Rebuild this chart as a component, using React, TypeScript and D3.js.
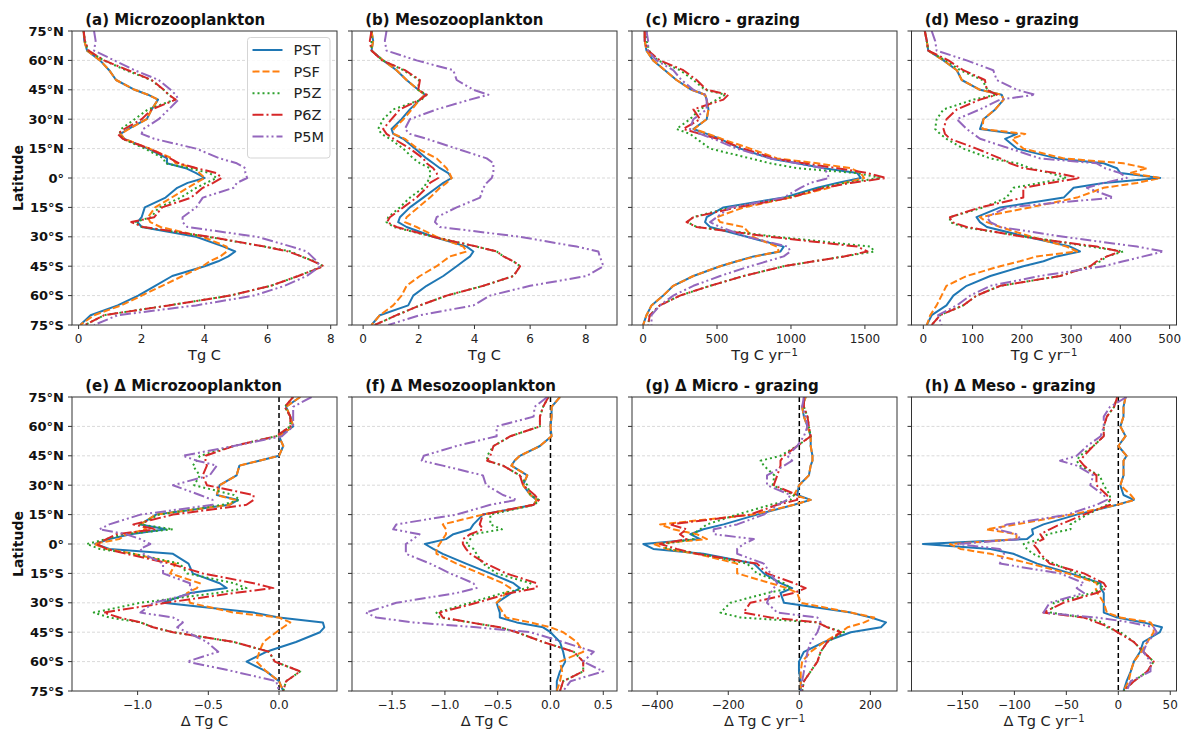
import React, { useEffect, useRef } from 'react';
import * as d3 from 'd3';

// latitude grid shared by every profile (deg, N positive)
const latitudes = [75, 70, 65, 60, 55, 50, 45, 42.5, 40, 35, 30, 25, 22.5, 20, 15, 10, 7.5, 5, 2.5, 0, -2.5, -5, -10, -15, -20, -22.5, -25, -30, -35, -37.5, -40, -42.5, -45, -50, -55, -60, -65, -70, -75];

const seriesNames = ['PST', 'PSF', 'P5Z', 'P6Z', 'P5M'];
const seriesColors = ['#1f77b4', '#ff7f0e', '#2ca02c', '#d62728', '#9467bd'];
const seriesDash = ['', '7,3', '2,3', '11,3,2,3', '11,3,2,3,2,3'];

const latTicks = [75, 60, 45, 30, 15, 0, -15, -30, -45, -60, -75];
const latTickLabels = ['75°N', '60°N', '45°N', '30°N', '15°N', '0°', '15°S', '30°S', '45°S', '60°S', '75°S'];

// rows: PST, PSF, P5Z, P6Z, P5M
const microBiomass = [
  [0.16, 0.18, 0.27, 0.68, 0.97, 1.19, 1.78, 2.2, 2.52, 2.32, 2.16, 1.57, 1.33, 1.45, 2.2, 2.81, 2.8, 3.4, 3.73, 4.0, 3.46, 3.13, 2.76, 2.1, 2.0, 1.87, 2.0, 3.73, 4.6, 4.97, 4.75, 4.43, 4.0, 2.97, 2.43, 1.89, 1.24, 0.38, 0.05],
  [0.16, 0.18, 0.27, 0.68, 0.97, 1.19, 1.78, 2.2, 2.52, 2.32, 2.16, 1.6, 1.33, 1.45, 2.25, 2.97, 3.08, 3.73, 3.84, 4.0, 3.73, 3.46, 2.95, 2.43, 2.2, 2.27, 2.6, 3.94, 4.7, 4.7, 4.5, 4.16, 3.94, 3.3, 2.65, 2.0, 1.35, 0.49, 0.05],
  [0.16, 0.2, 0.3, 0.8, 1.5, 2.3, 2.7, 2.86, 3.05, 2.2, 1.78, 1.35, 1.3, 1.4, 2.1, 2.7, 2.75, 3.5, 4.16, 4.38, 4.05, 3.73, 3.24, 2.55, 2.3, 1.78, 2.0, 4.1, 5.9, 6.75, 7.05, 7.5, 7.75, 6.97, 6.1, 4.8, 2.86, 0.81, 0.2],
  [0.16, 0.2, 0.32, 0.81, 1.57, 2.32, 2.7, 2.86, 3.08, 2.32, 2.0, 1.45, 1.24, 1.4, 2.25, 2.9, 3.19, 3.75, 4.38, 4.54, 4.27, 3.94, 3.57, 2.65, 2.4, 1.67, 2.05, 4.16, 5.9, 6.65, 7.08, 7.45, 7.78, 6.97, 6.1, 4.8, 2.86, 0.81, 0.2],
  [0.49, 0.54, 0.49, 1.13, 1.78, 2.54, 2.92, 3.08, 3.17, 2.86, 2.54, 2.05, 2.0, 2.4, 3.73, 4.48, 5.02, 5.29, 5.29, 5.35, 5.02, 4.92, 3.94, 3.73, 3.3, 3.3, 3.45, 5.67, 6.75, 7.24, 7.4, 7.56, 7.67, 7.24, 6.54, 5.56, 3.73, 1.24, 0.49],
];

const mesoBiomass = [
  [0.3, 0.36, 0.3, 0.72, 1.2, 1.56, 1.98, 2.22, 2.04, 1.68, 1.38, 1.02, 1.08, 1.44, 1.86, 2.28, 2.52, 2.76, 3.06, 3.18, 2.88, 2.64, 2.16, 1.68, 1.32, 1.26, 1.56, 2.52, 3.72, 3.96, 3.84, 3.6, 3.36, 2.88, 2.28, 1.8, 1.62, 0.6, 0.3],
  [0.3, 0.36, 0.3, 0.72, 1.2, 1.56, 1.98, 2.22, 2.04, 1.75, 1.45, 1.1, 1.1, 1.5, 1.95, 2.64, 2.82, 3.0, 3.1, 3.18, 3.0, 2.76, 2.4, 1.98, 1.56, 1.5, 1.92, 2.64, 3.6, 3.72, 3.12, 2.88, 2.64, 2.04, 1.56, 1.38, 1.08, 0.6, 0.3],
  [0.3, 0.3, 0.3, 0.7, 1.45, 2.0, 1.98, 2.28, 2.1, 1.08, 0.72, 0.54, 0.66, 0.96, 1.44, 1.8, 2.04, 2.4, 2.4, 2.4, 2.28, 2.16, 1.68, 1.32, 0.9, 0.84, 1.1, 2.52, 4.08, 4.8, 5.04, 5.4, 5.64, 5.4, 4.32, 3.0, 2.04, 1.2, 0.42],
  [0.3, 0.24, 0.3, 0.68, 1.5, 2.04, 1.98, 2.28, 2.04, 1.32, 1.02, 0.72, 0.84, 1.1, 1.68, 2.16, 2.28, 2.52, 2.64, 2.7, 2.4, 2.28, 1.92, 1.44, 0.96, 0.86, 1.2, 2.52, 4.08, 4.8, 5.04, 5.4, 5.64, 5.4, 4.32, 3.0, 2.04, 1.2, 0.42],
  [0.84, 0.78, 0.84, 1.92, 3.24, 3.36, 3.96, 4.5, 3.84, 2.64, 1.68, 1.5, 1.68, 2.28, 3.36, 4.44, 4.68, 4.68, 4.68, 4.62, 4.44, 4.32, 4.2, 3.36, 2.64, 2.58, 2.76, 5.64, 7.67, 8.45, 8.5, 8.57, 8.63, 8.03, 6.0, 4.56, 3.96, 2.04, 0.9],
];

const microGrazing = [
  [11, 11, 23, 68, 147, 226, 328, 419, 430, 442, 430, 340, 430, 521, 657, 860, 1042, 1223, 1449, 1472, 1313, 1178, 951, 543, 430, 419, 453, 702, 951, 929, 747, 634, 521, 340, 204, 136, 57, 23, 0],
  [11, 11, 23, 68, 147, 226, 328, 419, 430, 442, 430, 345, 440, 530, 725, 906, 1178, 1404, 1472, 1495, 1359, 1257, 996, 680, 498, 521, 680, 740, 906, 917, 760, 634, 521, 340, 204, 136, 57, 23, 0],
  [23, 25, 40, 100, 250, 340, 420, 555, 498, 385, 317, 226, 317, 362, 453, 725, 860, 1042, 1449, 1608, 1359, 1200, 980, 589, 340, 299, 362, 906, 1540, 1563, 1359, 1155, 951, 680, 453, 249, 113, 45, 34],
  [11, 11, 34, 113, 272, 362, 430, 577, 543, 340, 385, 272, 385, 500, 680, 883, 1087, 1313, 1517, 1642, 1404, 1223, 996, 634, 340, 294, 362, 860, 1449, 1517, 1359, 1155, 951, 680, 453, 249, 113, 45, 34],
  [23, 34, 34, 90, 204, 260, 340, 419, 430, 430, 340, 317, 385, 475, 634, 860, 1042, 1223, 1245, 1257, 1132, 1064, 951, 589, 498, 453, 521, 702, 980, 996, 951, 838, 725, 521, 340, 204, 113, 57, 57],
];

const mesoGrazing = [
  [3, 7, 10, 41, 68, 78, 115, 159, 163, 146, 122, 115, 190, 166, 190, 271, 366, 393, 400, 481, 366, 305, 285, 156, 108, 115, 129, 210, 298, 318, 271, 244, 203, 136, 88, 61, 47, 17, 7],
  [3, 7, 10, 41, 68, 78, 115, 159, 163, 146, 122, 120, 207, 180, 203, 285, 406, 454, 420, 481, 434, 366, 312, 217, 115, 129, 156, 220, 291, 312, 230, 196, 156, 88, 47, 37, 27, 14, 7],
  [3, 7, 10, 45, 75, 120, 130, 149, 102, 41, 27, 24, 34, 47, 81, 136, 190, 217, 257, 291, 237, 183, 169, 122, 54, 54, 80, 210, 339, 406, 373, 359, 339, 278, 156, 108, 81, 34, 17],
  [3, 7, 10, 51, 81, 125, 129, 149, 115, 68, 47, 41, 44, 54, 108, 156, 176, 203, 271, 318, 257, 203, 203, 115, 54, 58, 88, 203, 352, 400, 373, 352, 339, 278, 156, 108, 81, 34, 17],
  [17, 24, 27, 88, 142, 149, 190, 227, 156, 115, 68, 88, 102, 115, 176, 237, 352, 369, 400, 413, 366, 332, 386, 169, 129, 136, 156, 285, 434, 488, 447, 406, 366, 237, 136, 95, 68, 30, 37],
];

const dMicroBiomass = [
  [0.15, 0.05, 0.08, 0.1, 0.0, 0.03, 0.0, -0.14, -0.28, -0.3, -0.42, -0.44, -0.29, -0.35, -0.87, -0.98, -0.8, -1.05, -1.2, -1.3, -1.2, -0.75, -0.64, -0.61, -0.42, -0.37, -0.63, -0.82, -0.18, 0.0, 0.31, 0.32, 0.29, 0.12, -0.09, -0.23, -0.09, 0.0, 0.03],
  [0.15, 0.05, 0.08, 0.1, 0.0, 0.03, 0.0, -0.14, -0.28, -0.3, -0.42, -0.44, -0.31, -0.35, -0.87, -0.98, -0.94, -1.08, -1.13, -1.31, -1.22, -1.03, -0.73, -0.77, -0.56, -0.58, -0.65, -0.63, -0.32, 0.0, 0.08, 0.03, -0.02, -0.11, -0.14, -0.16, -0.09, 0.0, 0.03],
  [0.1, 0.04, 0.08, 0.08, -0.02, -0.32, -0.56, -0.58, -0.61, -0.56, -0.6, -0.32, -0.28, -0.4, -0.85, -0.98, -0.75, -1.1, -1.22, -1.36, -1.27, -1.03, -0.7, -0.65, -0.32, -0.23, -0.44, -0.98, -1.31, -1.2, -0.98, -0.89, -0.75, -0.32, -0.07, -0.03, 0.15, 0.05, 0.03],
  [0.1, 0.04, 0.08, 0.08, -0.02, -0.32, -0.52, -0.52, -0.51, -0.54, -0.51, -0.18, -0.18, -0.23, -0.75, -1.03, -0.87, -1.15, -1.22, -1.29, -1.22, -1.08, -0.77, -0.54, -0.18, -0.04, -0.32, -0.8, -1.24, -1.13, -0.98, -0.89, -0.75, -0.32, -0.07, -0.03, 0.15, 0.05, 0.03],
  [0.23, 0.1, 0.1, 0.1, 0.02, -0.32, -0.68, -0.58, -0.44, -0.49, -0.75, -0.56, -0.47, -0.47, -0.98, -1.2, -1.27, -1.08, -0.98, -0.91, -0.98, -0.96, -0.82, -0.82, -0.63, -0.63, -0.6, -0.89, -0.98, -0.75, -0.68, -0.72, -0.65, -0.51, -0.43, -0.65, -0.32, -0.02, 0.0],
];

const dMesoBiomass = [
  [0.09, 0.01, 0.01, 0.0, 0.01, -0.1, -0.29, -0.34, -0.37, -0.22, -0.26, -0.19, -0.13, -0.16, -0.64, -0.73, -0.76, -0.92, -0.99, -1.19, -1.11, -1.02, -0.8, -0.57, -0.35, -0.29, -0.37, -0.51, -0.48, -0.48, -0.32, -0.07, 0.0, 0.09, 0.12, 0.14, 0.09, 0.06, 0.06],
  [0.09, 0.01, 0.01, 0.0, 0.01, -0.1, -0.29, -0.34, -0.37, -0.22, -0.26, -0.19, -0.13, -0.16, -0.64, -1.02, -0.99, -0.99, -1.02, -1.05, -1.08, -1.08, -0.89, -0.67, -0.45, -0.38, -0.42, -0.51, -0.45, -0.42, -0.19, 0.0, 0.12, 0.25, 0.31, 0.09, 0.11, 0.09, 0.06],
  [-0.02, -0.07, -0.1, -0.1, -0.38, -0.54, -0.6, -0.6, -0.45, -0.29, -0.22, -0.19, -0.11, -0.15, -0.57, -0.57, -0.46, -0.73, -0.76, -0.8, -0.73, -0.7, -0.64, -0.51, -0.19, -0.22, -0.45, -0.76, -1.08, -1.05, -0.76, -0.48, -0.32, -0.07, 0.22, 0.31, 0.31, 0.12, 0.09],
  [-0.02, -0.07, -0.1, -0.1, -0.38, -0.54, -0.57, -0.6, -0.45, -0.29, -0.26, -0.15, -0.11, -0.16, -0.64, -0.67, -0.64, -0.76, -0.83, -0.83, -0.8, -0.76, -0.61, -0.42, -0.13, -0.13, -0.38, -0.7, -1.05, -1.02, -0.76, -0.48, -0.32, -0.07, 0.22, 0.31, 0.31, 0.12, 0.09],
  [-0.03, -0.15, -0.16, -0.51, -0.51, -0.89, -1.2, -1.22, -1.02, -0.64, -0.61, -0.45, -0.32, -0.57, -0.89, -1.46, -1.49, -1.24, -1.3, -1.37, -1.37, -1.37, -1.14, -0.95, -0.73, -0.7, -0.89, -1.46, -1.75, -1.65, -1.3, -0.7, -0.19, 0.12, 0.41, 0.31, 0.5, 0.19, 0.12],
];

const dMicroGrazing = [
  [18, 8, 13, 23, 32, 32, 37, 37, 32, 27, -1, -6, 32, -15, -119, -213, -270, -307, -279, -439, -411, -270, -128, -100, -53, -20, -53, -43, 145, 202, 244, 230, 145, 70, 13, -1, -1, 4, 4],
  [18, 8, 13, 23, 32, 32, 37, 37, 32, 27, 0, -15, 32, -15, -130, -392, -355, -289, -260, -411, -373, -289, -175, -175, -81, -34, -6, 4, 145, 211, 183, 136, 117, 70, 32, 8, 4, 4, 4],
  [13, 13, 23, 27, 32, -6, -53, -109, -100, -70, -75, -15, -25, -81, -175, -260, -279, -300, -298, -383, -373, -280, -147, -119, -43, -25, -90, -194, -222, -166, 51, 79, 126, 79, 60, 51, 32, 13, 8],
  [13, 13, 23, 27, 32, -6, -43, -53, -53, -62, -72, -6, -6, -62, -138, -364, -317, -336, -317, -392, -345, -289, -119, -91, -15, 18, -15, -138, -157, -81, 51, 79, 117, 79, 60, 51, 32, 13, 8],
  [13, 8, 18, 23, 13, -6, -34, -20, -43, -91, -91, -25, -34, -62, -100, -175, -241, -241, -128, -157, -175, -175, -100, -81, -62, -72, -81, -91, -62, 51, 60, 56, 51, 32, 23, 18, 13, 8, 6],
];

const dMesoGrazing = [
  [7, 5, 5, 2, 7, 0, 8, 5, 5, 5, 2, 5, 15, -1, -40, -72, -83, -82, -88, -188, -123, -101, -78, -46, -17, -17, -14, -14, -14, -1, 24, 42, 40, 24, 21, 15, 12, 8, 5],
  [7, 5, 5, 2, 7, 0, 8, 5, 5, 5, 2, 12, 16, -1, -45, -98, -127, -98, -98, -162, -152, -123, -85, -49, -20, -22, -20, -14, -11, 2, 31, 34, 34, 28, 22, 15, 12, 10, 5],
  [-1, -4, -11, -14, -14, -24, -37, -40, -37, -18, -14, -8, -8, -11, -30, -46, -46, -68, -75, -91, -88, -82, -62, -40, -20, -14, -25, -62, -65, -33, -15, -11, 2, 15, 24, 34, 28, 15, 5],
  [-1, -4, -11, -14, -14, -24, -33, -37, -33, -21, -21, -11, -8, -8, -33, -56, -66, -75, -72, -82, -78, -75, -66, -33, -14, -11, -21, -53, -72, -33, -21, -8, -1, 15, 24, 34, 28, 15, 5],
  [8, -8, -14, -14, -17, -30, -40, -56, -40, -24, -27, -14, -11, -21, -49, -107, -117, -98, -94, -155, -114, -110, -114, -56, -33, -40, -33, -66, -72, -21, 12, 34, 37, 28, 24, 31, 31, 12, 8],
];

const panelData = [microBiomass, mesoBiomass, microGrazing, mesoGrazing, dMicroBiomass, dMesoBiomass, dMicroGrazing, dMesoGrazing];
const panelTitles = [
  '(a) Microzooplankton', '(b) Mesozooplankton', '(c) Micro - grazing', '(d) Meso - grazing',
  '(e) Δ Microzooplankton', '(f) Δ Mesozooplankton', '(g) Δ Micro - grazing', '(h) Δ Meso - grazing',
];
const xLabels = ['Tg C', 'Tg C', 'Tg C yr', 'Tg C yr', 'Δ Tg C', 'Δ Tg C', 'Δ Tg C yr', 'Δ Tg C yr'];
const xLabelSup = [false, false, true, true, false, false, true, true];
const xDomains = [[-0.21, 8.2], [-0.4, 9.12], [-75, 1717], [-24, 514], [-1.464, 0.41], [-1.88, 0.63], [-471, 275], [-199, 56]];
const xTicks = [[0, 2, 4, 6, 8], [0, 2, 4, 6, 8], [0, 500, 1000, 1500], [0, 100, 200, 300, 400, 500], [-1.0, -0.5, 0.0], [-1.5, -1.0, -0.5, 0.0, 0.5], [-400, -200, 0, 200], [-150, -100, -50, 0, 50]];
const xDecimals = [0, 0, 0, 0, 1, 1, 0, 0];

function App() {
  const svgRef = useRef(null);

  useEffect(() => {
    document.body.style.margin = '0';
    document.body.style.overflow = 'hidden';

    const W = 1188, H = 733;
    const font = 'DejaVu Sans, Verdana, sans-serif';
    const colLeft = [72, 352, 632, 911.5];
    const rowTop = [31, 397];
    const pw = 265, ph = 294;

    const svg = d3.select(svgRef.current);
    svg.selectAll('*').remove();
    svg.attr('width', W).attr('height', H).style('display', 'block').style('background', '#fff');

    const fmt = (v, dec) => {
      const s = Math.abs(v).toFixed(dec);
      return (v < 0 ? '\u2212' : '') + s;
    };

    panelData.forEach((rows, p) => {
      const col = p % 4, row = Math.floor(p / 4);
      const g = svg.append('g').attr('transform', `translate(${colLeft[col]},${rowTop[row]})`);

      const x = d3.scaleLinear().domain(xDomains[p]).range([0, pw]);
      const y = d3.scaleLinear().domain([75, -75]).range([0, ph]);

      g.append('clipPath').attr('id', `clip${p}`)
        .append('rect').attr('width', pw).attr('height', ph);

      // grid lines
      g.selectAll('.grid')
        .data(latTicks.filter(l => Math.abs(l) < 75))
        .enter().append('line')
        .attr('x1', 0).attr('x2', pw)
        .attr('y1', d => y(d)).attr('y2', d => y(d))
        .attr('stroke', '#cfcfcf').attr('stroke-width', 0.8)
        .attr('stroke-dasharray', '3,2');

      // zero line on difference panels
      if (row === 1) {
        g.append('line')
          .attr('x1', x(0)).attr('x2', x(0)).attr('y1', 0).attr('y2', ph)
          .attr('stroke', '#000').attr('stroke-width', 1.5)
          .attr('stroke-dasharray', '5,3');
      }

      const line = d3.line()
        .defined(d => d != null)
        .x(d => x(d))
        .y((d, i) => y(latitudes[i]));

      const lines = g.append('g').attr('clip-path', `url(#clip${p})`);
      rows.forEach((vals, s) => {
        lines.append('path')
          .datum(vals)
          .attr('d', line)
          .attr('fill', 'none')
          .attr('stroke', seriesColors[s])
          .attr('stroke-width', 2)
          .attr('stroke-dasharray', seriesDash[s] || null)
          .attr('stroke-linejoin', 'round');
      });

      // frame
      g.append('rect').attr('width', pw).attr('height', ph)
        .attr('fill', 'none').attr('stroke', '#333').attr('stroke-width', 1);

      // y ticks
      g.selectAll('.ytick')
        .data(latTicks)
        .enter().append('line')
        .attr('x1', -4).attr('x2', 0)
        .attr('y1', d => y(d)).attr('y2', d => y(d))
        .attr('stroke', '#333').attr('stroke-width', 1);

      if (col === 0) {
        g.selectAll('.ylab')
          .data(latTicks)
          .enter().append('text')
          .attr('x', -8).attr('y', d => y(d))
          .attr('dy', '0.36em')
          .attr('text-anchor', 'end')
          .attr('font-family', font).attr('font-size', 13).attr('font-weight', 'bold')
          .attr('fill', '#111')
          .text((d, i) => latTickLabels[i]);

        g.append('text')
          .attr('transform', `translate(${18 - colLeft[0]},${ph / 2}) rotate(-90)`)
          .attr('text-anchor', 'middle').attr('dy', '0.36em')
          .attr('font-family', font).attr('font-size', 14).attr('font-weight', 'bold')
          .attr('fill', '#111')
          .text('Latitude');
      }

      // x ticks
      g.selectAll('.xtick')
        .data(xTicks[p])
        .enter().append('line')
        .attr('x1', d => x(d)).attr('x2', d => x(d))
        .attr('y1', ph).attr('y2', ph + 4)
        .attr('stroke', '#333').attr('stroke-width', 1);

      g.selectAll('.xlab')
        .data(xTicks[p])
        .enter().append('text')
        .attr('x', d => x(d)).attr('y', ph + 13.5)
        .attr('dy', '0.36em')
        .attr('text-anchor', 'middle')
        .attr('font-family', font).attr('font-size', 12)
        .attr('fill', '#222')
        .text(d => fmt(d, xDecimals[p]));

      const xl = g.append('text')
        .attr('x', pw / 2).attr('y', ph + 30)
        .attr('dy', '0.36em')
        .attr('text-anchor', 'middle')
        .attr('font-family', font).attr('font-size', 14.5)
        .attr('fill', '#222')
        .text(xLabels[p]);
      if (xLabelSup[p]) {
        xl.append('tspan').attr('dy', '-0.45em').attr('font-size', 10).text('\u22121');
      }

      // title
      g.append('text')
        .attr('x', pw * 0.05).attr('y', -6)
        .attr('font-family', font).attr('font-size', 15).attr('font-weight', 'bold')
        .attr('fill', '#111')
        .text(panelTitles[p]);

      // legend
      if (p === 0) {
        const lg = g.append('g').attr('transform', `translate(${247.5 - colLeft[0]},${37.5 - rowTop[0]})`);
        lg.append('rect')
          .attr('width', 82.5).attr('height', 120.5).attr('rx', 3)
          .attr('fill', '#fff').attr('fill-opacity', 0.85)
          .attr('stroke', '#d5d5d5').attr('stroke-width', 1);
        seriesNames.forEach((name, s) => {
          const cy = 12.5 + s * 21.6;
          lg.append('line')
            .attr('x1', 5).attr('x2', 35).attr('y1', cy).attr('y2', cy)
            .attr('stroke', seriesColors[s]).attr('stroke-width', 2)
            .attr('stroke-dasharray', seriesDash[s] || null);
          lg.append('text')
            .attr('x', 46).attr('y', cy).attr('dy', '0.36em')
            .attr('font-family', font).attr('font-size', 14.5)
            .attr('fill', '#222')
            .text(name);
        });
      }
    });
  }, []);

  return (
    <div>
      <svg ref={svgRef}></svg>
    </div>
  );
}

export default App;
